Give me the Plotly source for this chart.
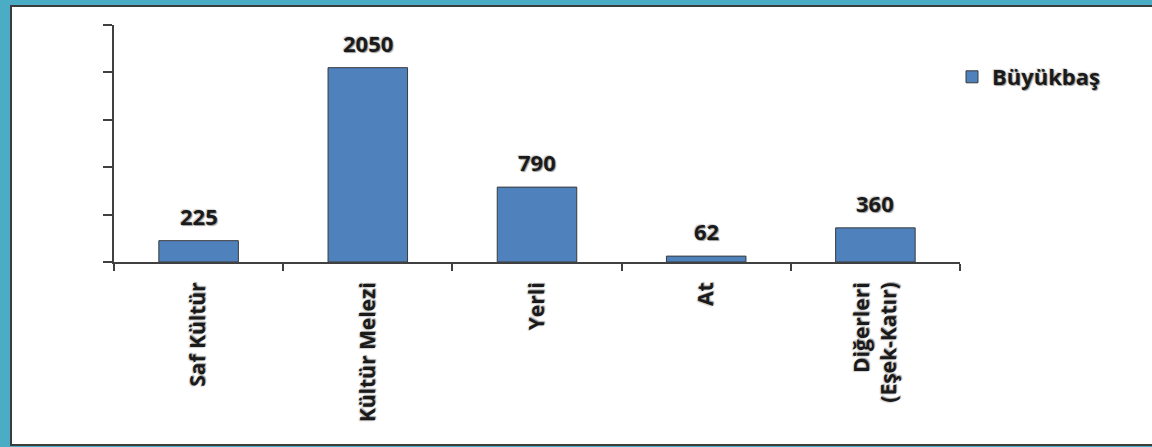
import plotly.graph_objects as go

categories = ["Saf Kültür", "Kültür Melezi", "Yerli", "At", "Diğerleri<br>(Eşek-Katır)"]
values = [225, 2050, 790, 62, 360]
series_name = "Büyükbaş"
y_max = 2500
y_step = 500

W, H = 1152, 447
ML, MR, MT, MB = 114, 192, 25, 185
PW, PH = W - ML - MR, H - MT - MB

def px_x(p):
    return (p - ML) / PW

def px_y(p):
    return (H - MB - p) / PH

FONT = "Open Sans"
shadow = "1px 1px 1px #9a9a9a, -1px -1px 1px #d0d0d0"

fig = go.Figure()
fig.add_trace(go.Bar(
    x=categories, y=values, name=series_name,
    marker=dict(color="#4F81BD", line=dict(color="#3a3a3a", width=1)),
    width=0.47, showlegend=True,
))

for c, v in zip(categories, values):
    fig.add_annotation(x=c, y=v, text=f"<b>{v}</b>", showarrow=False,
                       yanchor="middle", yshift=25,
                       font=dict(family=FONT, size=22, color="#1a1a1a", shadow=shadow))

shapes = [
    dict(type="rect", xref="paper", yref="paper",
         x0=px_x(-5), x1=px_x(W + 5), y0=px_y(H + 5), y1=px_y(-5),
         fillcolor="#4BACC6", line=dict(width=0), layer="below"),
    dict(type="rect", xref="paper", yref="paper",
         x0=px_x(11), x1=px_x(W + 5), y0=px_y(445), y1=px_y(6),
         fillcolor="white", line=dict(color="#3c3c3c", width=2), layer="below"),
]

fig.update_layout(
    width=W, height=H,
    margin=dict(l=ML, r=MR, t=MT, b=MB, pad=0),
    paper_bgcolor="white", plot_bgcolor="rgba(0,0,0,0)",
    shapes=shapes,
    font=dict(family=FONT, color="#1a1a1a"),
    legend=dict(x=px_x(952), y=px_y(77), xanchor="left", yanchor="middle",
                font=dict(family=FONT, size=22, color="#1a1a1a", shadow=shadow, weight="bold"),
                bgcolor="rgba(0,0,0,0)", itemwidth=30),
    bargap=0.53,
)
fig.update_xaxes(
    type="category", tickson="boundaries", ticks="outside", ticklen=7,
    tickcolor="#404040", tickwidth=2,
    showline=True, linecolor="#404040", linewidth=2,
    tickangle=-90, showgrid=False, zeroline=False,
    tickfont=dict(family=FONT, size=21, color="#1a1a1a", shadow=shadow, weight="bold"),
    ticklabelstandoff=10,
)
fig.update_yaxes(
    range=[0, y_max], dtick=y_step, tick0=0,
    showticklabels=False, ticks="outside", ticklen=9,
    tickcolor="#404040", tickwidth=2,
    showline=True, linecolor="#404040", linewidth=2,
    showgrid=False, zeroline=False,
)
fig.write_html("out.html", config={"displayModeBar": False},
               post_script="document.body.style.margin='0';document.body.style.overflow='hidden';")
